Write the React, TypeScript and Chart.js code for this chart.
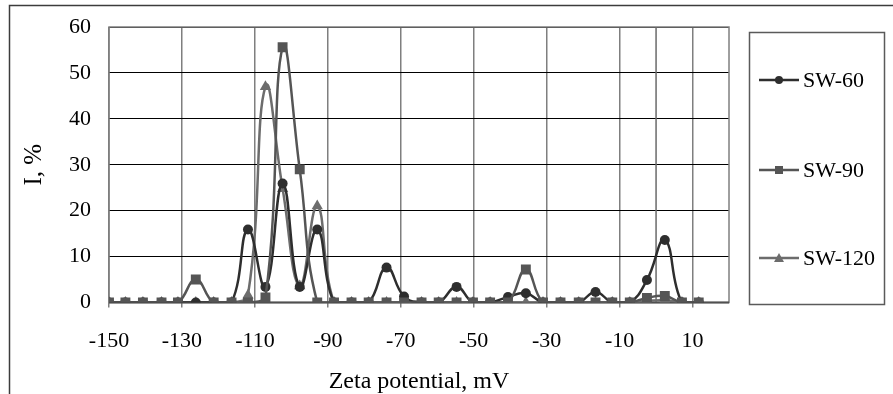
import React, { useEffect, useRef } from 'react';
import { Chart, registerables } from 'chart.js';

Chart.register(...registerables);

// Zeta potential of each measurement bin, mV
const zeta = [
  -150.0, -145.5, -140.7, -135.6, -131.1, -126.2, -121.3, -116.4, -111.9, -107.1,
  -102.4, -97.7, -92.9, -88.3, -83.5, -78.8, -73.9, -69.1, -64.3, -59.6,
  -54.7, -50.2, -45.5, -40.6, -35.7, -31.0, -26.2, -21.2, -16.6, -12.0,
  -7.2, -2.5, 2.4, 7.1, 11.7,
];

// Intensity, %
const sw60 = [
  0, 0, 0, 0, 0, 0, 0, 0, 15.9, 3.4,
  25.9, 3.4, 15.9, 0, 0, 0, 7.6, 1.3, 0, 0,
  3.4, 0, 0, 1.2, 2.0, 0, 0, 0, 2.3, 0,
  0, 4.9, 13.6, 0, 0,
];
const sw90 = [
  0, 0, 0, 0, 0, 5.0, 0, 0, 0, 1.1,
  55.6, 29.0, 0, 0, 0, 0, 0, 0, 0, 0,
  0, 0, 0, 0, 7.2, 0, 0, 0, 0, 0,
  0, 1.0, 1.4, 0, 0,
];
const sw120 = [
  0, 0, 0, 0, 0, 0, 0, 0, 1.6, 47.0,
  24.8, 3.6, 21.0, 0, 0, 0, 0, 0, 0, 0,
  0, 0, 0, 0, 0, 0, 0, 0, 0, 0,
  0, 0.3, 0.5, 0, 0,
];

const xTicks = [-150, -130, -110, -90, -70, -50, -30, -10, 10];
const seriesNames = ['SW-60', 'SW-90', 'SW-120'];

const FONT = "'Liberation Serif', 'Times New Roman', serif";
const COLORS = ['#2e2e2e', '#555555', '#6c6c6c'];
const MARKERS = ['circle', 'rect', 'triangle'];
const RADII = [5, 7, 6.5];

const points = (vals: number[]) => vals.map((y, i) => ({ x: zeta[i], y }));

// keep tick-label overhang from pushing the plot area around
const noOverhang = (s: any) => {
  s.paddingTop = 0;
  s.paddingBottom = 0;
};

const framePlugin = {
  id: 'frame',
  beforeDatasetsDraw(chart: any) {
    const { ctx, chartArea: a, scales } = chart;
    ctx.save();
    // plot area outline
    ctx.strokeStyle = '#7f7f7f';
    ctx.lineWidth = 1.5;
    ctx.strokeRect(a.left, a.top, a.right - a.left, a.bottom - a.top);
    // vertical axis crossing at 0 mV
    const x0 = scales.x.getPixelForValue(0);
    ctx.strokeStyle = '#6a6a6a';
    ctx.beginPath();
    ctx.moveTo(x0, a.top);
    ctx.lineTo(x0, a.bottom);
    ctx.stroke();
    // horizontal axis at 0 %
    const y0 = scales.y.getPixelForValue(0);
    ctx.strokeStyle = '#505050';
    ctx.lineWidth = 2;
    ctx.beginPath();
    ctx.moveTo(a.left, y0);
    ctx.lineTo(a.right, y0);
    ctx.stroke();
    ctx.restore();
  },
  afterDraw(chart: any) {
    const { ctx } = chart;
    ctx.save();
    // outer chart border
    ctx.strokeStyle = '#3c3c3c';
    ctx.lineWidth = 1.5;
    ctx.beginPath();
    ctx.moveTo(9.5, chart.height + 2);
    ctx.lineTo(9.5, 5.5);
    ctx.lineTo(chart.width + 2, 5.5);
    ctx.stroke();

    // legend box
    const bx = 749.5, by = 32.5, bw = 135, bh = 272;
    ctx.fillStyle = '#ffffff';
    ctx.fillRect(bx, by, bw, bh);
    ctx.strokeStyle = '#5a5a5a';
    ctx.lineWidth = 1.5;
    ctx.strokeRect(bx, by, bw, bh);

    const rows = [80, 170, 258];
    seriesNames.forEach((name, i) => {
      const y = rows[i];
      ctx.strokeStyle = COLORS[i];
      ctx.lineWidth = 2.5;
      ctx.beginPath();
      ctx.moveTo(759, y);
      ctx.lineTo(799, y);
      ctx.stroke();
      ctx.fillStyle = COLORS[i];
      ctx.beginPath();
      if (MARKERS[i] === 'circle') {
        ctx.arc(779, y, 4, 0, Math.PI * 2);
      } else if (MARKERS[i] === 'rect') {
        ctx.rect(775, y - 4, 8, 8);
      } else {
        ctx.moveTo(779, y - 5);
        ctx.lineTo(784, y + 4);
        ctx.lineTo(774, y + 4);
        ctx.closePath();
      }
      ctx.fill();
      ctx.fillStyle = '#000000';
      ctx.font = `22px ${FONT}`;
      ctx.textAlign = 'left';
      ctx.textBaseline = 'middle';
      ctx.fillText(name, 803, y + 1);
    });
    ctx.restore();
  },
};

export default function App() {
  const ref = useRef<HTMLCanvasElement | null>(null);

  useEffect(() => {
    if (!ref.current) return;
    const sets = [sw60, sw90, sw120];
    const order = [1, 0, 2];
    const chart = new Chart(ref.current, {
      type: 'line',
      data: {
        datasets: sets.map((vals, i) => ({
          label: seriesNames[i],
          data: points(vals),
          borderColor: COLORS[i],
          backgroundColor: COLORS[i],
          pointBackgroundColor: COLORS[i],
          pointBorderColor: COLORS[i],
          pointBorderWidth: 0,
          pointStyle: MARKERS[i] as any,
          pointRadius: RADII[i],
          borderWidth: 2.5,
          tension: 0.45,
          fill: false,
          order: order[i],
        })),
      },
      options: {
        responsive: false,
        animation: false,
        devicePixelRatio: 1,
        layout: { padding: { left: 0, top: 27, right: 164, bottom: 0 } },
        plugins: {
          legend: { display: false },
          tooltip: { enabled: false },
        },
        scales: {
          x: {
            type: 'linear',
            min: -150,
            max: 20,
            afterBuildTicks: (s: any) => {
              s.ticks = xTicks.map((v) => ({ value: v }));
            },
            afterFit: (s: any) => {
              s.height = 91.5;
              noOverhang(s);
            },
            border: { display: false },
            grid: {
              color: '#7f7f7f',
              lineWidth: 1.5,
              drawTicks: true,
              tickLength: 5,
              tickColor: '#7f7f7f',
            },
            ticks: {
              color: '#000',
              font: { family: FONT, size: 22 },
              padding: 21,
              maxRotation: 0,
              autoSkip: false,
            },
            title: {
              display: true,
              text: 'Zeta potential, mV',
              color: '#000',
              font: { family: FONT, size: 24, lineHeight: 1 },
              padding: { top: 0, bottom: 0 },
            },
          },
          y: {
            min: 0,
            max: 60,
            afterFit: (s: any) => {
              s.width = 109;
              noOverhang(s);
            },
            border: { display: false },
            grid: { color: '#000', lineWidth: 1, drawTicks: false },
            ticks: {
              stepSize: 10,
              color: '#000',
              font: { family: FONT, size: 22 },
              padding: 18,
            },
            title: {
              display: true,
              text: 'I, %',
              color: '#000',
              font: { family: FONT, size: 25, lineHeight: 1 },
              padding: { top: 22, bottom: 0 },
            },
          },
        },
      },
      plugins: [framePlugin],
    });
    return () => chart.destroy();
  }, []);

  return (
    <div style={{ position: 'absolute', left: 0, top: 0, width: 893, height: 394, background: '#fff' }}>
      <canvas ref={ref} width={893} height={394} style={{ display: 'block' }} />
    </div>
  );
}
